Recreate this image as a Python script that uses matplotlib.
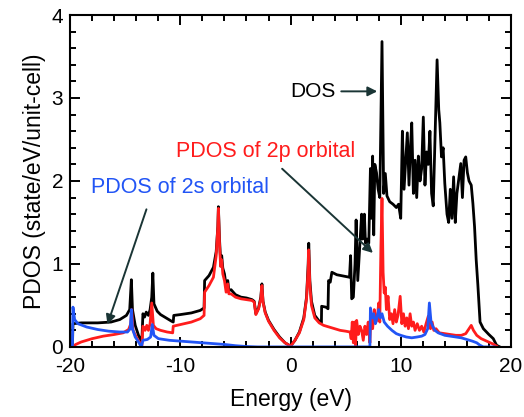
import matplotlib
matplotlib.use("Agg")
import matplotlib.pyplot as plt
from matplotlib.ticker import MultipleLocator

plt.rcParams["font.family"] = ["Liberation Sans", "DejaVu Sans"]

# total DOS (black)
dos_e = [-19.8, -19.75, -19.0, -17.5, -16.3, -15.5, -14.9, -14.6, -14.45, -14.35,
         -14.1, -13.8, -13.5, -13.4, -13.25, -13.1, -12.9, -12.75, -12.6, -12.5,
         -12.4, -12.1, -11.8, -11.3, -10.8, -10.65, -10.6, -10.0, -9.0, -8.2,
         -7.85, -7.8, -7.4, -7.0, -6.75, -6.6, -6.55, -6.45, -6.35, -6.25,
         -6.15, -6.0, -5.85, -5.7, -5.6, -5.4, -5.0, -4.5, -4.0, -3.5,
         -3.3, -3.15, -2.9, -2.7, -2.6, -2.5, -2.3, -2.0, -1.5, -1.0,
         -0.5, 0.0, 0.4, 0.8, 1.2, 1.45, 1.6, 1.65, 1.75, 1.9,
         2.2, 2.6, 2.8, 2.82, 3.2, 3.4, 3.45, 3.6, 3.75, 4.2,
         5.0, 5.35, 5.45, 5.55, 5.7, 5.85, 5.95, 6.1, 6.3, 6.45,
         6.55, 6.7, 6.8, 6.95, 7.1, 7.25, 7.35, 7.45, 7.55, 7.65,
         7.8, 7.95, 8.1, 8.3, 8.45, 8.6, 8.75, 9.0, 9.3, 9.6,
         9.8, 10.0, 10.15, 10.3, 10.45, 10.6, 10.75, 10.9, 11.0, 11.15,
         11.3, 11.45, 11.6, 11.75, 11.9, 12.05, 12.2, 12.35, 12.5, 12.65,
         12.8, 12.95, 13.1, 13.3, 13.45, 13.55, 13.7, 13.85, 14.0, 14.2,
         14.35, 14.5, 14.65, 14.8, 14.95, 15.1, 15.3, 15.45, 15.6, 15.75,
         15.9, 16.05, 16.2, 16.4, 16.55, 16.7, 16.85, 17.0, 17.2, 17.5,
         18.0, 18.4, 18.7, 19.0]
dos_v = [0.0, 0.28, 0.29, 0.29, 0.30, 0.33, 0.38, 0.45, 0.81, 0.45,
         0.26, 0.14, 0.06, 0.40, 0.36, 0.42, 0.38, 0.45, 0.60, 0.89,
         0.52, 0.43, 0.39, 0.35, 0.31, 0.30, 0.38, 0.39, 0.41, 0.44,
         0.47, 0.80, 0.86, 0.96, 1.15, 1.45, 1.69, 1.30, 1.05, 1.10,
         0.95, 0.88, 0.74, 0.80, 0.68, 0.69, 0.63, 0.60, 0.59, 0.57,
         0.55, 0.40, 0.47, 0.60, 0.76, 0.55, 0.42, 0.32, 0.21, 0.12,
         0.05, 0.01, 0.08, 0.18, 0.35, 0.60, 1.00, 1.25, 0.80, 0.55,
         0.38, 0.31, 0.29, 0.49, 0.48, 0.46, 0.80, 0.78, 0.90, 0.87,
         0.85, 0.84, 1.10, 0.58, 0.60, 1.00, 1.53, 0.80, 1.25, 1.60,
         1.30, 1.60, 1.25, 1.30, 1.25, 2.15, 1.55, 2.30, 1.35, 2.20,
         2.10, 1.90, 1.80, 3.68, 1.85, 2.09, 1.82, 1.75, 1.72, 1.68,
         1.72, 1.55, 2.60, 1.90, 2.25, 2.58, 1.95, 2.45, 2.70, 1.85,
         2.25, 1.80, 2.30, 2.00, 2.15, 2.77, 1.95, 2.35, 2.20, 2.60,
         1.85, 1.70, 2.45, 3.46, 2.86, 2.70, 2.29, 2.40, 1.97, 1.60,
         1.50, 1.90, 1.55, 2.05, 1.50, 1.85, 2.05, 2.21, 1.80, 2.25,
         2.29, 2.10, 2.00, 1.95, 1.73, 1.45, 1.05, 0.75, 0.30, 0.22,
         0.15, 0.10, 0.02, 0.0]

# PDOS of 2p orbital (red)
p_e = [-19.8, -19.5, -19.0, -18.0, -17.0, -16.0, -15.2, -14.7, -14.5, -14.42,
       -14.3, -14.0, -13.7, -13.5, -13.4, -13.2, -13.05, -12.9, -12.75, -12.6,
       -12.45, -12.2, -11.8, -11.2, -10.7, -10.65, -10.0, -9.0, -8.2, -7.85,
       -7.8, -7.4, -7.0, -6.75, -6.6, -6.55, -6.45, -6.35, -6.25, -6.15,
       -6.0, -5.85, -5.7, -5.6, -5.4, -5.0, -4.5, -4.0, -3.5, -3.3,
       -3.15, -2.9, -2.7, -2.6, -2.5, -2.3, -2.0, -1.5, -1.0, -0.5,
       0.0, 0.4, 0.8, 1.2, 1.45, 1.6, 1.65, 1.75, 1.9, 2.2,
       2.6, 3.0, 3.5, 4.0, 4.5, 5.0, 5.4, 5.5, 5.6, 5.7,
       5.8, 5.9, 6.0, 6.15, 6.3, 6.45, 6.6, 6.75, 6.9, 7.05,
       7.2, 7.3, 7.45, 7.6, 7.75, 7.9, 8.0, 8.1, 8.2, 8.3,
       8.4, 8.5, 8.6, 8.7, 8.85, 9.0, 9.15, 9.3, 9.45, 9.6,
       9.75, 9.95, 10.1, 10.25, 10.4, 10.55, 10.7, 10.85, 11.0, 11.15,
       11.3, 11.5, 11.7, 11.9, 12.1, 12.3, 12.5, 12.7, 12.85, 13.0,
       13.2, 13.5, 14.0, 14.5, 15.0, 15.5, 15.9, 16.2, 16.4, 16.6,
       16.9, 17.3, 17.8, 18.3, 18.7]
p_v = [0.0, 0.03, 0.06, 0.10, 0.13, 0.15, 0.17, 0.21, 0.28, 0.45,
       0.20, 0.12, 0.05, 0.0, 0.25, 0.20, 0.26, 0.20, 0.28, 0.53,
       0.26, 0.22, 0.20, 0.18, 0.17, 0.25, 0.27, 0.30, 0.34, 0.38,
       0.66, 0.74, 0.84, 1.10, 1.45, 1.67, 1.25, 0.97, 1.05, 0.88,
       0.80, 0.66, 0.76, 0.64, 0.64, 0.60, 0.58, 0.57, 0.56, 0.54,
       0.39, 0.46, 0.58, 0.74, 0.54, 0.41, 0.31, 0.20, 0.11, 0.05,
       0.01, 0.08, 0.17, 0.33, 0.58, 0.95, 1.17, 0.75, 0.50, 0.35,
       0.29, 0.26, 0.24, 0.22, 0.20, 0.19, 0.18, 0.10, 0.30, 0.05,
       0.30, 0.02, 0.32, 0.15, 0.25, 0.20, 0.08, 0.25, 0.15, 0.30,
       0.05, 0.40, 0.22, 0.45, 0.30, 0.38, 0.53, 0.30, 1.20, 1.79,
       0.90, 0.65, 0.72, 0.45, 0.61, 0.33, 0.40, 0.28, 0.45, 0.30,
       0.38, 0.61, 0.28, 0.40, 0.25, 0.35, 0.22, 0.40, 0.25, 0.30,
       0.20, 0.28, 0.20, 0.25, 0.18, 0.28, 0.37, 0.22, 0.30, 0.20,
       0.22, 0.17, 0.16, 0.15, 0.14, 0.14, 0.16, 0.22, 0.26, 0.20,
       0.14, 0.10, 0.07, 0.04, 0.01]

# PDOS of 2s orbital (blue)
s_e = [-19.8, -19.75, -19.6, -19.3, -18.5, -17.5, -16.5, -15.5, -14.8, -14.55,
       -14.45, -14.35, -14.1, -13.8, -13.55, -13.4, -13.0, -12.7, -12.55, -12.4,
       -12.0, -11.0, -10.0, -9.0, -8.0, -7.0, -6.0, -5.0, -4.0, -3.0,
       7.2, 7.25, 7.4, 7.55, 7.7, 7.85, 8.0, 8.15, 8.3, 8.5,
       8.8, 9.2, 9.6, 10.0, 10.5, 11.0, 11.5, 11.9, 12.2, 12.45,
       12.6, 12.75, 12.9, 13.1, 13.4, 14.0, 14.5, 15.0, 15.5, 16.0,
       16.5, 16.9, 17.2, 17.5, 18.5]
s_v = [0.0, 0.48, 0.33, 0.28, 0.24, 0.21, 0.19, 0.18, 0.18, 0.22,
       0.45, 0.22, 0.12, 0.06, 0.0, 0.08, 0.09, 0.12, 0.27, 0.14,
       0.10, 0.08, 0.07, 0.06, 0.05, 0.04, 0.03, 0.015, 0.005, 0.0,
       0.0, 0.47, 0.35, 0.40, 0.28, 0.35, 0.45, 0.35, 0.40, 0.30,
       0.25, 0.20, 0.16, 0.14, 0.12, 0.11, 0.12, 0.13, 0.15, 0.22,
       0.53, 0.30, 0.25, 0.20, 0.17, 0.14, 0.13, 0.12, 0.11, 0.09,
       0.07, 0.05, 0.02, 0.0, 0.0]

x_ticks = [-20, -10, 0, 10, 20]
x_ticklabels = ["-20", "-10", "0", "10", "20"]

RED = "#ff1c1c"
BLUE = "#2255f5"
ARROW = "#1a3535"

fig = plt.figure(figsize=(5.24, 4.17), dpi=100)
ax = fig.add_axes([0.134, 0.168, 0.841, 0.796])

ax.plot(dos_e, dos_v, color="black", lw=2.0)
ax.plot(p_e, p_v, color=RED, lw=2.0)
ax.plot(s_e, s_v, color=BLUE, lw=2.0)

ax.set_xlim(-20, 20)
ax.set_ylim(0, 4)
ax.set_xticks(x_ticks)
ax.set_xticklabels(x_ticklabels)
ax.xaxis.set_minor_locator(MultipleLocator(2))
ax.yaxis.set_major_locator(MultipleLocator(1))
ax.yaxis.set_minor_locator(MultipleLocator(0.2))
ax.tick_params(which="both", direction="in", top=True, right=True, width=1.4,
               labelsize=15)
ax.tick_params(which="major", length=7)
ax.tick_params(which="minor", length=4.5)
ax.tick_params(axis="x", which="major", pad=7)
ax.tick_params(axis="y", which="major", pad=5)
for sp in ax.spines.values():
    sp.set_linewidth(1.5)

ax.set_xlabel("Energy (eV)", fontsize=16.5, labelpad=9)
ax.set_ylabel("PDOS (state/eV/unit-cell)", fontsize=16.5, labelpad=4)

ax.text(2.04, 3.08, "DOS", fontsize=15, ha="center", va="center")
ax.annotate("", xy=(8.12, 3.08), xytext=(4.35, 3.08),
            arrowprops=dict(arrowstyle="-|>", color=ARROW, lw=1.4, mutation_scale=14))

ax.text(-2.27, 2.35, "PDOS of 2p orbital", fontsize=15.5, color=RED, ha="center", va="center")
ax.annotate("", xy=(7.66, 1.11), xytext=(-0.95, 2.17),
            arrowprops=dict(arrowstyle="-|>", color=ARROW, lw=1.4, mutation_scale=14))

ax.text(-10.0, 1.92, "PDOS of 2s orbital", fontsize=15.5, color=BLUE, ha="center", va="center")
ax.annotate("", xy=(-16.7, 0.24), xytext=(-13.0, 1.69),
            arrowprops=dict(arrowstyle="-|>", color=ARROW, lw=1.4, mutation_scale=14))

fig.savefig("out.png", dpi=100)
